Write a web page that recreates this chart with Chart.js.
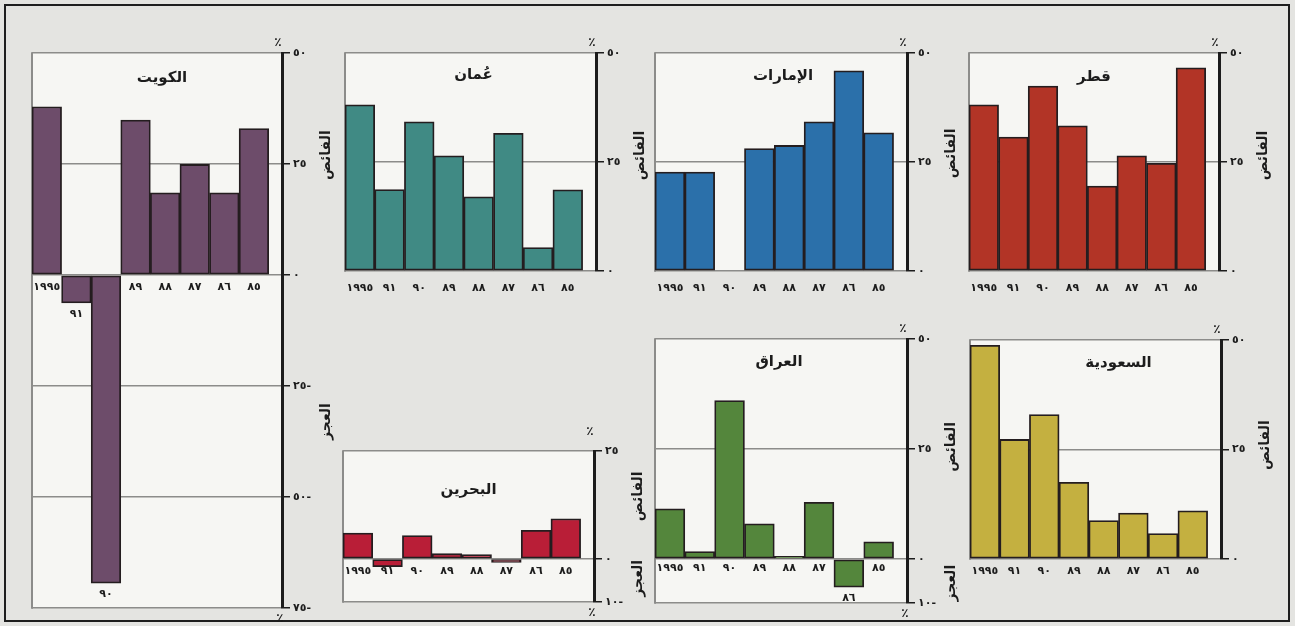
<!DOCTYPE html>
<html><head><meta charset="utf-8">
<script src="https://cdn.jsdelivr.net/npm/chart.js@4.4.1/dist/chart.umd.min.js"></script>
<style>
html,body{margin:0;padding:0;background:#e4e4e1;width:1295px;height:626px;overflow:hidden;position:relative;}
#frame{position:absolute;left:4px;top:4px;width:1282px;height:614px;border:2px solid #1e1e1e;}
canvas{position:absolute;}
</style></head><body>
<div id="frame"></div>
<script>
// ---- data ----
const years = ['١٩٩٥','٩١','٩٠','٨٩','٨٨','٨٧','٨٦','٨٥'];
const kuwaitValues  = [37.9, -6.3, -69.4, 34.9, 18.5, 24.9, 18.5, 33.0];
const omanValues    = [38.1, 18.7, 34.2, 26.4, 17.0, 31.6, 5.4, 18.6];
const uaeValues     = [22.7, 22.7, null, 28.1, 28.8, 34.2, 45.9, 31.7];
const qatarValues   = [38.1, 30.7, 42.4, 33.3, 19.5, 26.4, 24.7, 46.6];
const saudiValues   = [48.8, 27.3, 33.0, 17.5, 8.8, 10.5, 5.8, 11.0];
const iraqValues    = [11.4, 1.7, 36.0, 8.0, 0.6, 12.9, -6.4, 3.9];
const bahrainValues = [6.0, -1.8, 5.4, 1.2, 1.0, -0.8, 6.6, 9.3];

const kuwaitTicks  = [50, 25, 0, -25, -50, -75];
const posTicks     = [50, 25, 0];
const iraqTicks    = [50, 25, 0, -10];
const bahrainTicks = [25, 0, -10];

const countryNames = {kuwait:'الكويت', oman:'عُمان', uae:'الإمارات', qatar:'قطر', saudi:'السعودية', iraq:'العراق', bahrain:'البحرين'};
const surplusLabel = 'الفائض';
const deficitLabel = 'العجز';
const percentSign = '٪';

// ---- helpers ----
const FONT = "'DejaVu Sans', sans-serif";
const INK = '#1c1c1c';
const toAr = n => String(n).replace(/\d/g, d => '٠١٢٣٤٥٦٧٨٩'[d]);
const tickText = v => v < 0 ? toAr(-v) + '-' : toAr(v);

const decoPlugin = {
  id: 'deco',
  beforeDraw(chart) {
    const {ctx, chartArea: a} = chart;
    ctx.save();
    ctx.fillStyle = '#f6f6f3';
    ctx.fillRect(a.left, a.top, a.right - a.left, a.bottom - a.top);
    ctx.restore();
  },
  beforeDatasetsDraw(chart) {
    const {ctx, chartArea: a} = chart;
    ctx.save();
    ctx.strokeStyle = '#8c8c8a'; ctx.lineWidth = 2;
    ctx.beginPath(); ctx.moveTo(a.left, a.top - 0.75); ctx.lineTo(a.left, a.bottom + 0.75); ctx.stroke();
    ctx.restore();
  },
  afterDraw(chart, args, o) {
    const {ctx, chartArea: a, scales: {y}} = chart;
    ctx.save();
    ctx.fillStyle = INK;
    ctx.textAlign = 'center'; ctx.textBaseline = 'middle';
    ctx.font = 'bold 15px ' + FONT;
    ctx.fillText(o.title, (a.left + a.right) / 2 + (o.titleDx || 0), a.top + o.titleDy);
    ctx.font = 'bold 12px ' + FONT;
    ctx.fillText(percentSign, a.right - 4, a.top - (o.pctTop || 10));
    if (y.min < 0) ctx.fillText(percentSign, a.right - 2, a.bottom + 11);
    ctx.font = 'bold 14px ' + FONT;
    const tx = a.right + 44;
    [[surplusLabel, o.surplusAt], [deficitLabel, o.deficitAt]].forEach(([t, v]) => {
      if (v === undefined) return;
      ctx.save();
      ctx.translate(tx, y.getPixelForValue(v));
      ctx.rotate(-Math.PI / 2);
      ctx.fillText(t, 0, 0);
      ctx.restore();
    });
    ctx.font = 'bold 11px ' + FONT;
    const meta = chart.getDatasetMeta(0);
    meta.data.forEach((el, i) => {
      const v = o.values[i];
      if (v !== null && v < -3) ctx.fillText(years[i], el.x, el.y + 11);
    });
    ctx.restore();
  }
};

function makePanel(p) {
  const cl = p.L - 12, ct = p.T - p.padTop;
  const cw = p.R + 62 - cl, ch = p.B + p.padBottom - ct;
  const cv = document.createElement('canvas');
  cv.width = cw; cv.height = ch;
  cv.style.left = cl + 'px'; cv.style.top = ct + 'px';
  cv.style.width = cw + 'px'; cv.style.height = ch + 'px';
  document.body.appendChild(cv);
  const axisW = cw - (p.R - cl);
  new Chart(cv, {
    type: 'bar',
    data: {
      datasets: [{
        data: p.values.map((v, i) => ({x: i, y: v})),
        backgroundColor: p.color,
        borderColor: '#241d1f',
        borderWidth: 1.8,
        borderSkipped: false,
        barPercentage: 1,
        categoryPercentage: 1
      }]
    },
    options: {
      responsive: false, animation: false, devicePixelRatio: 1,
      layout: {padding: {left: 12, top: p.padTop, bottom: p.padBottom, right: 0}},
      plugins: {
        legend: {display: false}, tooltip: {enabled: false},
        deco: {title: p.title, titleDx: p.titleDx, titleDy: p.titleDy, surplusAt: p.surplusAt, deficitAt: p.deficitAt, values: p.values, pctTop: p.pctTop}
      },
      scales: {
        x: {
          type: 'linear', min: -0.5, max: 7.95, offset: false, position: {y: 0}, z: 1,
          grid: {display: false, drawTicks: false, offset: false}, border: {display: false},
          afterBuildTicks: s => { s.ticks = years.map((_, i) => ({value: i})); },
          ticks: {
            autoSkip: false, maxRotation: 0, minRotation: 0, padding: p.labelPad, color: INK,
            font: {family: FONT, size: 11, weight: 'bold'},
            callback: v => (p.values[v] !== null && p.values[v] < -3) ? '' : years[v]
          }
        },
        y: {
          position: 'right', min: p.min, max: p.max,
          afterBuildTicks: s => { s.ticks = p.ticks.map(v => ({value: v})); },
          afterFit: s => { s.width = axisW; },
          grid: {color: '#8c8c8a', lineWidth: 1.5, tickColor: INK, tickLength: 8, tickWidth: 1.5},
          border: {color: INK, width: 3},
          ticks: {padding: 3, color: INK, font: {family: FONT, size: 11, weight: 'bold'}, callback: v => tickText(v)}
        }
      }
    },
    plugins: [decoPlugin]
  });
}

makePanel({L: 32, R: 282, T: 53, B: 608, min: -75, max: 50, ticks: kuwaitTicks, values: kuwaitValues, color: '#6d4c6a',
  title: countryNames.kuwait, titleDx: 5, titleDy: 25, labelPad: 6, surplusAt: 27, deficitAt: -33, padTop: 22, padBottom: 18});
makePanel({L: 345, R: 596, T: 53, B: 271, min: 0, max: 50, ticks: posTicks, values: omanValues, color: '#408a84',
  title: countryNames.oman, titleDx: 3, titleDy: 22, labelPad: 11, surplusAt: 26.5, padTop: 22, padBottom: 30});
makePanel({L: 655, R: 907, T: 53, B: 271, min: 0, max: 50, ticks: posTicks, values: uaeValues, color: '#2b70aa',
  title: countryNames.uae, titleDx: 2, titleDy: 23, labelPad: 11, surplusAt: 27, padTop: 22, padBottom: 30});
makePanel({L: 969, R: 1219, T: 53, B: 271, min: 0, max: 50, ticks: posTicks, values: qatarValues, color: '#b23426',
  title: countryNames.qatar, titleDx: 0, titleDy: 24, labelPad: 11, surplusAt: 26.5, padTop: 22, padBottom: 30});
makePanel({L: 970, R: 1221, T: 340, B: 559, min: 0, max: 50, ticks: posTicks, values: saudiValues, color: '#c4b040',
  title: countryNames.saudi, titleDx: 23, titleDy: 23, labelPad: 6, surplusAt: 26, padTop: 22, padBottom: 30});
makePanel({L: 655, R: 907, T: 339, B: 603, min: -10, max: 50, ticks: iraqTicks, values: iraqValues, color: '#54863c',
  title: countryNames.iraq, titleDx: -2, titleDy: 23, labelPad: 3, surplusAt: 25.5, deficitAt: -5.5, padTop: 22, padBottom: 22});
makePanel({L: 343, R: 594, T: 451, B: 602, min: -10, max: 25, ticks: bahrainTicks, values: bahrainValues, color: '#b91e37',
  title: countryNames.bahrain, titleDx: 0, titleDy: 39, labelPad: 6, surplusAt: 14.5, deficitAt: -4.5, padTop: 30, padBottom: 22, pctTop: 19});
</script>
</body></html>
